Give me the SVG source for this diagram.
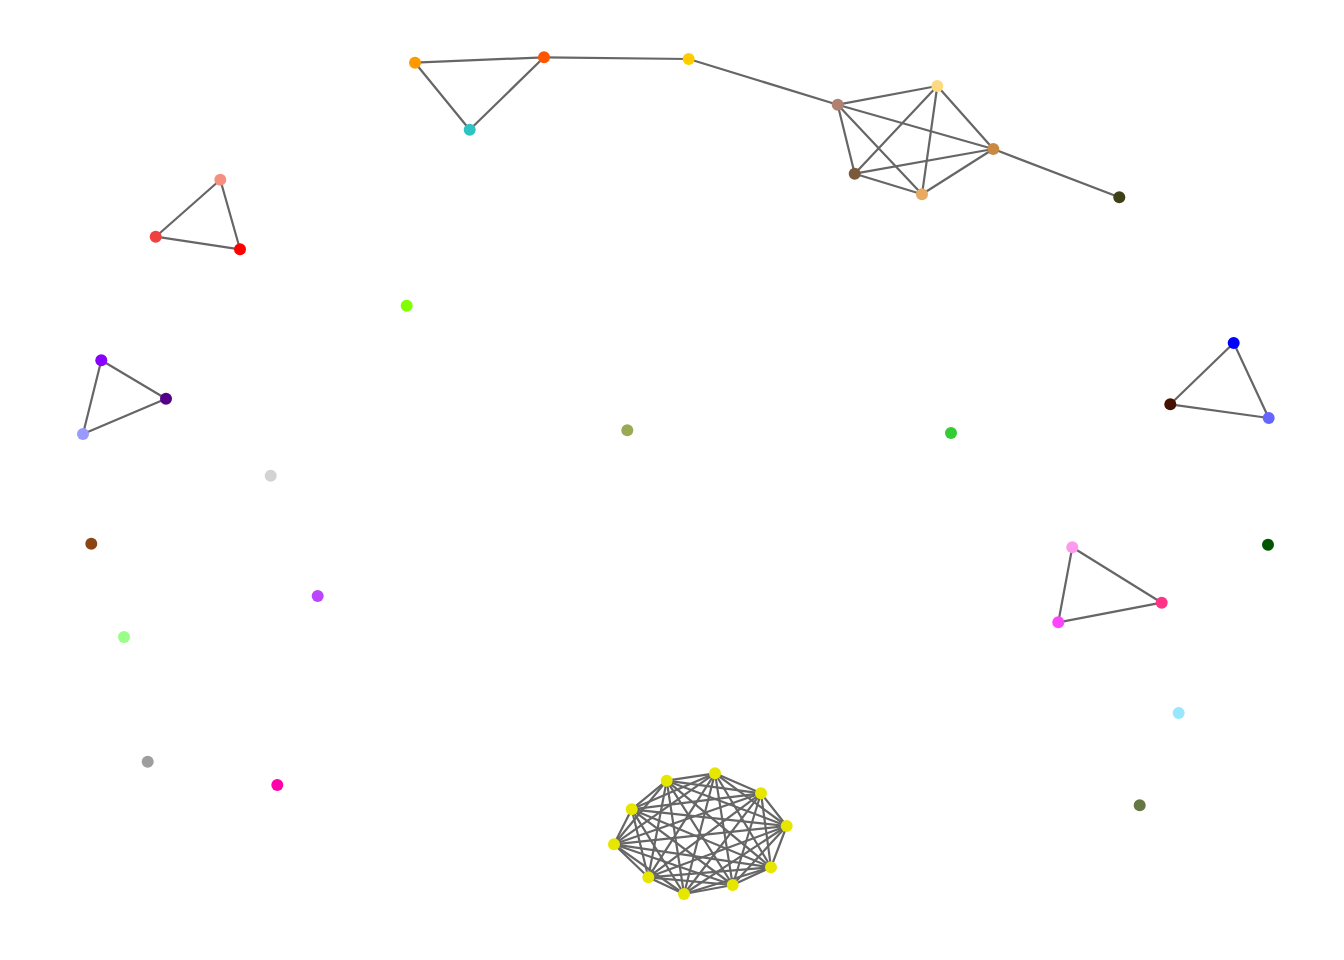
<svg xmlns="http://www.w3.org/2000/svg" width="1344" height="960" viewBox="0 0 1344 960">
<style>
.e line{stroke:#666666;stroke-width:2.2;stroke-linecap:round}
circle{r:6}
</style>
<rect width="1344" height="960" fill="#ffffff"/>
<g id="edges" class="e">
<line x1="415" y1="62.7" x2="544" y2="57.3"/>
<line x1="415" y1="62.7" x2="469.7" y2="129.7"/>
<line x1="469.7" y1="129.7" x2="544" y2="57.3"/>
<line x1="544" y1="57.3" x2="688.7" y2="59"/>
<line x1="688.7" y1="59" x2="837.7" y2="104.7"/>
<line x1="837.7" y1="104.7" x2="937.3" y2="86"/>
<line x1="837.7" y1="104.7" x2="993.3" y2="149"/>
<line x1="837.7" y1="104.7" x2="854.7" y2="173.7"/>
<line x1="837.7" y1="104.7" x2="922" y2="194.3"/>
<line x1="937.3" y1="86" x2="993.3" y2="149"/>
<line x1="937.3" y1="86" x2="854.7" y2="173.7"/>
<line x1="937.3" y1="86" x2="922" y2="194.3"/>
<line x1="993.3" y1="149" x2="854.7" y2="173.7"/>
<line x1="993.3" y1="149" x2="922" y2="194.3"/>
<line x1="854.7" y1="173.7" x2="922" y2="194.3"/>
<line x1="993.3" y1="149" x2="1119.3" y2="197.3"/>
<line x1="220.3" y1="179.7" x2="155.7" y2="236.7"/>
<line x1="220.3" y1="179.7" x2="240" y2="249.3"/>
<line x1="155.7" y1="236.7" x2="240" y2="249.3"/>
<line x1="101.3" y1="360.3" x2="166" y2="398.7"/>
<line x1="101.3" y1="360.3" x2="83" y2="434"/>
<line x1="166" y1="398.7" x2="83" y2="434"/>
<line x1="1233.7" y1="343" x2="1170.3" y2="404.3"/>
<line x1="1233.7" y1="343" x2="1268.7" y2="418"/>
<line x1="1170.3" y1="404.3" x2="1268.7" y2="418"/>
<line x1="1072.3" y1="547.3" x2="1161.7" y2="602.7"/>
<line x1="1072.3" y1="547.3" x2="1058.3" y2="622.3"/>
<line x1="1161.7" y1="602.7" x2="1058.3" y2="622.3"/>
<!-- K10 -->
<line x1="666.7" y1="780.7" x2="715" y2="773.3"/>
<line x1="666.7" y1="780.7" x2="761" y2="793.3"/>
<line x1="666.7" y1="780.7" x2="786.7" y2="826"/>
<line x1="666.7" y1="780.7" x2="771" y2="867.3"/>
<line x1="666.7" y1="780.7" x2="732.7" y2="885"/>
<line x1="666.7" y1="780.7" x2="684" y2="894"/>
<line x1="666.7" y1="780.7" x2="648.3" y2="877.3"/>
<line x1="666.7" y1="780.7" x2="614" y2="844.3"/>
<line x1="666.7" y1="780.7" x2="631.7" y2="809.3"/>
<line x1="715" y1="773.3" x2="761" y2="793.3"/>
<line x1="715" y1="773.3" x2="786.7" y2="826"/>
<line x1="715" y1="773.3" x2="771" y2="867.3"/>
<line x1="715" y1="773.3" x2="732.7" y2="885"/>
<line x1="715" y1="773.3" x2="684" y2="894"/>
<line x1="715" y1="773.3" x2="648.3" y2="877.3"/>
<line x1="715" y1="773.3" x2="614" y2="844.3"/>
<line x1="715" y1="773.3" x2="631.7" y2="809.3"/>
<line x1="761" y1="793.3" x2="786.7" y2="826"/>
<line x1="761" y1="793.3" x2="771" y2="867.3"/>
<line x1="761" y1="793.3" x2="732.7" y2="885"/>
<line x1="761" y1="793.3" x2="684" y2="894"/>
<line x1="761" y1="793.3" x2="648.3" y2="877.3"/>
<line x1="761" y1="793.3" x2="614" y2="844.3"/>
<line x1="761" y1="793.3" x2="631.7" y2="809.3"/>
<line x1="786.7" y1="826" x2="771" y2="867.3"/>
<line x1="786.7" y1="826" x2="732.7" y2="885"/>
<line x1="786.7" y1="826" x2="684" y2="894"/>
<line x1="786.7" y1="826" x2="648.3" y2="877.3"/>
<line x1="786.7" y1="826" x2="614" y2="844.3"/>
<line x1="786.7" y1="826" x2="631.7" y2="809.3"/>
<line x1="771" y1="867.3" x2="732.7" y2="885"/>
<line x1="771" y1="867.3" x2="684" y2="894"/>
<line x1="771" y1="867.3" x2="648.3" y2="877.3"/>
<line x1="771" y1="867.3" x2="614" y2="844.3"/>
<line x1="771" y1="867.3" x2="631.7" y2="809.3"/>
<line x1="732.7" y1="885" x2="684" y2="894"/>
<line x1="732.7" y1="885" x2="648.3" y2="877.3"/>
<line x1="732.7" y1="885" x2="614" y2="844.3"/>
<line x1="732.7" y1="885" x2="631.7" y2="809.3"/>
<line x1="684" y1="894" x2="648.3" y2="877.3"/>
<line x1="684" y1="894" x2="614" y2="844.3"/>
<line x1="684" y1="894" x2="631.7" y2="809.3"/>
<line x1="648.3" y1="877.3" x2="614" y2="844.3"/>
<line x1="648.3" y1="877.3" x2="631.7" y2="809.3"/>
<line x1="614" y1="844.3" x2="631.7" y2="809.3"/>
</g>
<g id="nodes">
<g id="n1"><circle cx="415" cy="62.7" r="6" fill="#FF9900"/></g>
<g id="n2"><circle cx="544" cy="57.3" r="6" fill="#FF5500"/></g>
<g id="n3"><circle cx="688.7" cy="59" r="6" fill="#FFCC00"/></g>
<g id="n4"><circle cx="469.7" cy="129.7" r="6" fill="#2EC4C4"/></g>
<g id="n5"><circle cx="837.7" cy="104.7" r="6" fill="#B08070"/></g>
<g id="n6"><circle cx="937.3" cy="86" r="6" fill="#FFD980"/></g>
<g id="n7"><circle cx="993.3" cy="149" r="6" fill="#C88A40"/></g>
<g id="n8"><circle cx="854.7" cy="173.7" r="6" fill="#7A5A3A"/></g>
<g id="n9"><circle cx="922" cy="194.3" r="6" fill="#E8AA60"/></g>
<g id="n10"><circle cx="1119.3" cy="197.3" r="6" fill="#404018"/></g>
<g id="n11"><circle cx="220.3" cy="179.7" r="6" fill="#F49080"/></g>
<g id="n12"><circle cx="155.7" cy="236.7" r="6" fill="#F04040"/></g>
<g id="n13"><circle cx="240" cy="249.3" r="6" fill="#FF0000"/></g>
<g id="n14"><circle cx="101.3" cy="360.3" r="6" fill="#8800FF"/></g>
<g id="n15"><circle cx="166" cy="398.7" r="6" fill="#550088"/></g>
<g id="n16"><circle cx="83" cy="434" r="6" fill="#9999FF"/></g>
<g id="n17"><circle cx="1233.7" cy="343" r="6" fill="#0000FF"/></g>
<g id="n18"><circle cx="1170.3" cy="404.3" r="6" fill="#441100"/></g>
<g id="n19"><circle cx="1268.7" cy="418" r="6" fill="#6666FF"/></g>
<g id="n20"><circle cx="1072.3" cy="547.3" r="6" fill="#FF99EE"/></g>
<g id="n21"><circle cx="1161.7" cy="602.7" r="6" fill="#FF3388"/></g>
<g id="n22"><circle cx="1058.3" cy="622.3" r="6" fill="#FF44FF"/></g>
<g id="n23"><circle cx="406.7" cy="305.7" r="6" fill="#80FF00"/></g>
<g id="n24"><circle cx="627.3" cy="430.3" r="6" fill="#99AA55"/></g>
<g id="n25"><circle cx="951" cy="433" r="6" fill="#33CC33"/></g>
<g id="n26"><circle cx="270.7" cy="475.7" r="6" fill="#D3D3D3"/></g>
<g id="n27"><circle cx="91.3" cy="543.7" r="6" fill="#8B4513"/></g>
<g id="n28"><circle cx="317.7" cy="596" r="6" fill="#BB44FF"/></g>
<g id="n29"><circle cx="124" cy="637" r="6" fill="#99FF88"/></g>
<g id="n30"><circle cx="147.7" cy="761.7" r="6" fill="#9E9E9E"/></g>
<g id="n31"><circle cx="277.3" cy="785" r="6" fill="#FF00AA"/></g>
<g id="n32"><circle cx="1268" cy="544.7" r="6" fill="#005500"/></g>
<g id="n33"><circle cx="1178.7" cy="713" r="6" fill="#99E6FF"/></g>
<g id="n34"><circle cx="1139.7" cy="805.3" r="6" fill="#667744"/></g>
<g id="y1"><circle cx="666.7" cy="780.7" r="6" fill="#E6E600"/></g>
<g id="y2"><circle cx="715" cy="773.3" r="6" fill="#E6E600"/></g>
<g id="y3"><circle cx="761" cy="793.3" r="6" fill="#E6E600"/></g>
<g id="y4"><circle cx="786.7" cy="826" r="6" fill="#E6E600"/></g>
<g id="y5"><circle cx="771" cy="867.3" r="6" fill="#E6E600"/></g>
<g id="y6"><circle cx="732.7" cy="885" r="6" fill="#E6E600"/></g>
<g id="y7"><circle cx="684" cy="894" r="6" fill="#E6E600"/></g>
<g id="y8"><circle cx="648.3" cy="877.3" r="6" fill="#E6E600"/></g>
<g id="y9"><circle cx="614" cy="844.3" r="6" fill="#E6E600"/></g>
<g id="y10"><circle cx="631.7" cy="809.3" r="6" fill="#E6E600"/></g>
</g>
</svg>
